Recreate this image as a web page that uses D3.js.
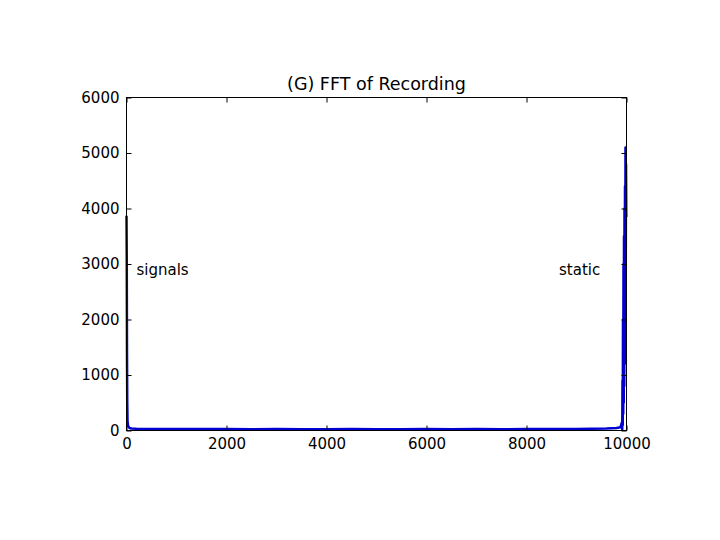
<!DOCTYPE html>
<html><head><meta charset="utf-8">
<script src="https://cdn.jsdelivr.net/npm/d3@7"></script>
<style>body{margin:0;background:#fff}svg{display:block}text{font-family:"DejaVu Sans",sans-serif;fill:#000}</style>
</head><body>
<script>
const title = "(G) FFT of Recording";
const freqIdx = [0, 5, 10, 15, 20, 30, 45, 60, 100, 200, 400, 700, 1000, 1500, 2000, 2500, 3000, 3500, 4000, 4500, 5000, 5500, 6000, 6500, 7000, 7500, 8000, 8500, 9000, 9300, 9600, 9800, 9880, 9910, 9915, 9920, 9925, 9930, 9935, 9940, 9945, 9950, 9955, 9960, 9965, 9970, 9975, 9980, 9985, 9990, 9995, 10000];
const magnitude = [3870, 3100, 1400, 500, 180, 90, 60, 45, 35, 30, 28, 27, 26, 25, 25, 24, 25, 24, 24, 25, 24, 24, 25, 24, 25, 24, 25, 26, 27, 30, 35, 45, 60, 150, 20, 900, 100, 2000, 300, 3000, 500, 3500, 800, 4000, 1200, 4400, 2000, 5100, 2800, 4800, 3900, 3850];
const xTicks = [0, 2000, 4000, 6000, 8000, 10000];
const yTicks = [0, 1000, 2000, 3000, 4000, 5000, 6000];
const notes = [{x: 200, y: 2800, text: "signals"}, {x: 8650, y: 2800, text: "static"}];

const W = 720, H = 540;
const m = {l: 126.5, r: 626.5, t: 97.5, b: 430.5};
const svg = d3.select("body").append("svg").attr("width", W).attr("height", H);
const x = d3.scaleLinear().domain([0, 10000]).range([m.l, m.r]);
const y = d3.scaleLinear().domain([0, 6000]).range([m.b, m.t]);

svg.append("text").attr("x", (m.l + m.r) / 2).attr("y", m.t - 8).attr("text-anchor", "middle")
  .style("font-size", "17.5px").text(title);

const line = d3.line().x((d, i) => x(freqIdx[i])).y(d => y(d));
svg.append("path").datum(magnitude).attr("d", line).attr("fill", "none")
  .attr("stroke", "#0000d0").attr("stroke-width", 2.5).attr("stroke-linejoin", "round");

// axes with inward ticks
const axB = d3.axisBottom(x).tickValues(xTicks).tickSize(-5).tickPadding(8).tickFormat(d3.format("d"));
const axL = d3.axisLeft(y).tickValues(yTicks).tickSize(-5).tickPadding(7).tickFormat(d3.format("d"));
const axT = d3.axisTop(x).tickValues(xTicks).tickSize(-5).tickFormat("");
const axR = d3.axisRight(y).tickValues(yTicks).tickSize(-5).tickFormat("");
[[axB, `translate(0,${m.b})`], [axL, `translate(${m.l},0)`], [axT, `translate(0,${m.t})`], [axR, `translate(${m.r},0)`]].forEach(([a, t]) => {
  const g = svg.append("g").attr("transform", t).call(a);
  g.select(".domain").remove();
  g.selectAll("line").attr("stroke", "#000");
  g.selectAll("text").style("font-size", "15px").style("font-family", "DejaVu Sans, sans-serif").attr("fill", "#000");
});
svg.append("rect").attr("x", m.l).attr("y", m.t).attr("width", m.r - m.l).attr("height", m.b - m.t)
  .attr("fill", "none").attr("stroke", "#000").attr("stroke-width", 1);

svg.selectAll(".note").data(notes).enter().append("text").attr("class", "note")
  .attr("x", d => x(d.x)).attr("y", d => y(d.y)).style("font-size", "15px").text(d => d.text);
</script>
</body></html>
